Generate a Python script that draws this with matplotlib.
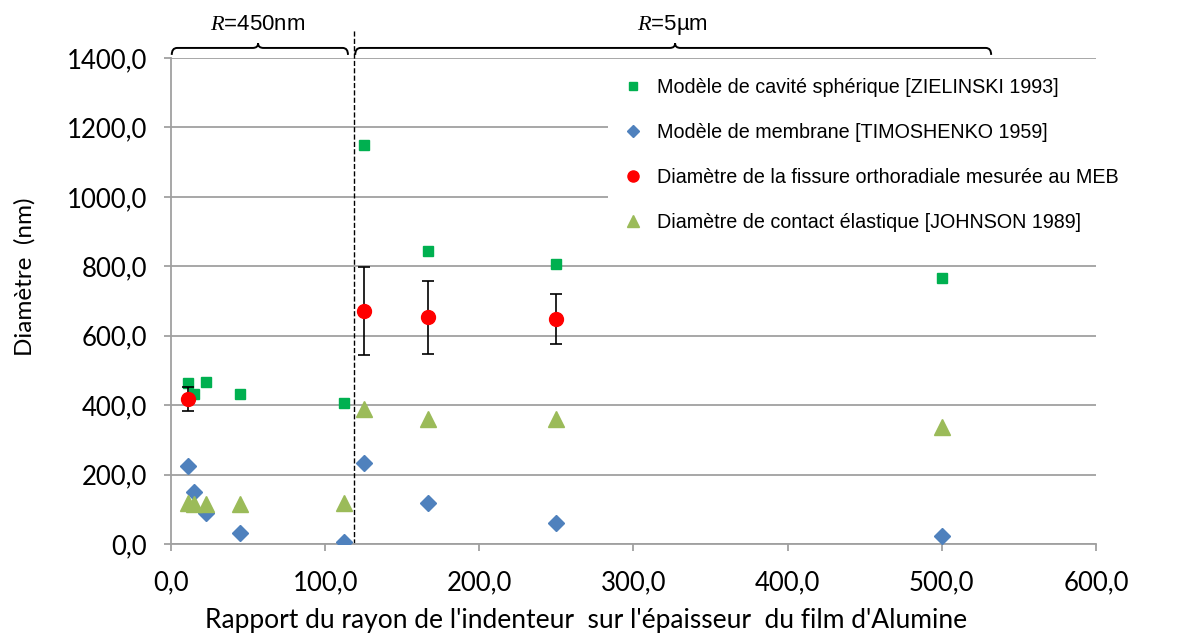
import matplotlib
matplotlib.use('Agg')
import matplotlib.pyplot as plt
from matplotlib.lines import Line2D
from matplotlib.path import Path
from matplotlib.patches import PathPatch
from matplotlib.ticker import FuncFormatter, MultipleLocator

# rapport R / épaisseur
x_450 = [11.25, 15, 22.5, 45, 112.5]
x_5um = [125, 166.7, 250, 500]
x_all = x_450 + x_5um

cavite = [464, 433, 466, 432, 405, 1149, 844, 807, 765]
membrane = [225, 151, 88, 31, 7, 232, 118, 60, 23]
contact = [119, 115, 115, 115, 117, 388, 359, 359, 336]

x_meb = [11.25, 125, 166.7, 250]
meb = [418, 671, 653, 647]
meb_err = [34, 126, 105, 72]

lbl_cav = 'Modèle de cavité sphérique [ZIELINSKI 1993]'
lbl_mem = 'Modèle de membrane [TIMOSHENKO 1959]'
lbl_meb = 'Diamètre de la fissure orthoradiale mesurée au MEB'
lbl_con = 'Diamètre de contact élastique [JOHNSON 1989]'

c_cav, c_mem, c_meb, c_con = '#00B050', '#4F81BD', '#FF0000', '#9BBB59'

plt.rcParams['mathtext.fontset'] = 'custom'
plt.rcParams['mathtext.it'] = 'Liberation Serif:italic'
plt.rcParams['mathtext.rm'] = 'Liberation Sans'

fig = plt.figure(figsize=(11.8, 6.36), dpi=100)
ax = fig.add_axes([0.1449, 0.1447, 0.7839, 0.7641])

ax.plot(x_all, cavite, 's', color=c_cav, ms=7.5, ls='none', zorder=3)
ax.plot(x_all, membrane, 'D', color=c_mem, ms=8, ls='none', zorder=3)
ax.errorbar(x_meb, meb, yerr=meb_err, fmt='o', color=c_meb, ms=10, ecolor='black',
            elinewidth=1.2, capsize=4, capthick=1.2, zorder=4)
ax.plot(x_all, contact, '^', color=c_con, ms=11, ls='none', zorder=3)

ax.set_xlim(0, 600)
ax.set_ylim(0, 1400)
ax.xaxis.set_major_locator(MultipleLocator(100))
ax.yaxis.set_major_locator(MultipleLocator(200))
fmt = FuncFormatter(lambda v, p: f'{v:.1f}'.replace('.', ','))
ax.xaxis.set_major_formatter(fmt)
ax.yaxis.set_major_formatter(fmt)
ax.grid(axis='y', color='#A0A0A0', lw=1.3)
ax.set_axisbelow(True)
for s in ['top', 'right']:
    ax.spines[s].set_visible(False)
for s in ['left', 'bottom']:
    ax.spines[s].set_color('#A0A0A0')
    ax.spines[s].set_linewidth(1.3)
ax.tick_params(colors='#A0A0A0', labelcolor='black', length=5, width=1.3, labelsize=18.5)
ax.tick_params(axis='y', pad=12)
ax.tick_params(axis='x', pad=14)
for t in ax.get_xticklabels() + ax.get_yticklabels():
    t.set_fontfamily('Lato')

ax.set_xlabel("Rapport du rayon de l'indenteur  sur l'épaisseur  du film d'Alumine",
              family='Lato', fontsize=19)
ax.xaxis.label.set_va('center')
ax.xaxis.set_label_coords(0.449, -0.158)
ax.set_ylabel('Diamètre  (nm)', family='Lato', fontsize=17.5)
ax.yaxis.label.set_va('center')
ax.yaxis.set_label_coords(-0.158, 0.549)

handles = [
    Line2D([], [], marker='s', color=c_cav, ms=6, ls='none'),
    Line2D([], [], marker='D', color=c_mem, ms=6, ls='none'),
    Line2D([], [], marker='o', color=c_meb, ms=8, ls='none'),
    Line2D([], [], marker='^', color=c_con, ms=8, ls='none'),
]
leg = ax.legend(handles, [lbl_cav, lbl_mem, lbl_meb, lbl_con],
                loc='upper left', bbox_to_anchor=(0.4724, 0.979), frameon=True, fancybox=False,
                facecolor='white', edgecolor='none', framealpha=1,
                prop={'family': 'Liberation Sans', 'size': 14.2},
                labelspacing=1.32, handletextpad=0.5, borderpad=0.5, borderaxespad=0,
                handlelength=1.5)
leg.set_zorder(5)

# séparation R=450nm / R=5µm
ax.axvline(118.75, ymin=0, ymax=1481 / 1400, clip_on=False, ls='--', color='black', lw=1, zorder=2)


def brace(x0, x1, xm, y_low=1409, y_mid=1429, y_tip=1442, rx=3.5):
    verts = [(x0, y_low), (x0, y_mid), (x0 + rx, y_mid),
             (xm - rx, y_mid), (xm, y_mid), (xm, y_tip),
             (xm, y_mid), (xm + rx, y_mid),
             (x1 - rx, y_mid), (x1, y_mid), (x1, y_low)]
    codes = [Path.MOVETO, Path.CURVE3, Path.CURVE3,
             Path.LINETO, Path.CURVE3, Path.CURVE3,
             Path.CURVE3, Path.CURVE3,
             Path.LINETO, Path.CURVE3, Path.CURVE3]
    ax.add_patch(PathPatch(Path(verts, codes), fill=False, lw=1.4, color='black', clip_on=False))


brace(0.5, 114.8, 56.5)
brace(119.5, 532, 327)

ax.text(56.5, 1496, '$R$=450nm', ha='center', va='center', fontsize=16, family='Liberation Sans')
ax.text(325, 1496, '$R$=5µm', ha='center', va='center', fontsize=16, family='Liberation Sans')

fig.savefig('out.png', dpi=100)
